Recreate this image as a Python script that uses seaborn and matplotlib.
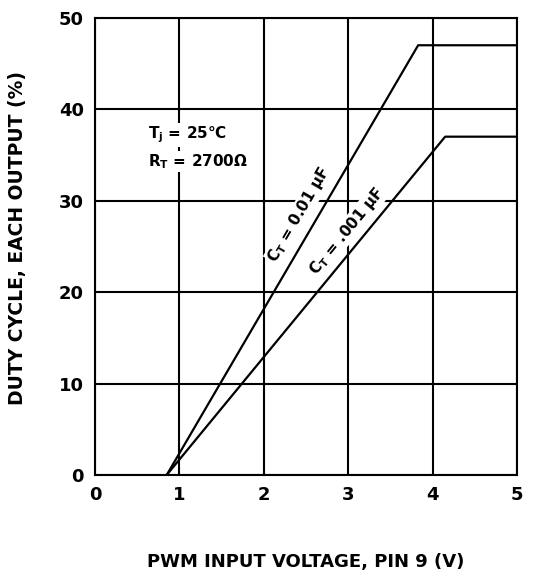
import numpy as np
import pandas as pd
import matplotlib
matplotlib.use('Agg')
import matplotlib.pyplot as plt
import seaborn as sns

sns.set_theme(style='white')
plt.rcParams['font.family'] = ['DejaVu Sans']
plt.rcParams['mathtext.fontset'] = 'dejavusans'
plt.rcParams['mathtext.default'] = 'bf'
plt.rcParams['text.color'] = 'black'
plt.rcParams['axes.labelcolor'] = 'black'
plt.rcParams['xtick.color'] = 'black'
plt.rcParams['ytick.color'] = 'black'

v_01 = [0.85, 3.83, 5.0]
duty_01 = [0.0, 47.0, 47.0]
v_001 = [0.85, 4.15, 5.0]
duty_001 = [0.0, 37.0, 37.0]

xticks = [0, 1, 2, 3, 4, 5]
yticks = [0, 10, 20, 30, 40, 50]

df = pd.concat([
    pd.DataFrame({'v': v_01, 'duty': duty_01, 'ct': '0.01'}),
    pd.DataFrame({'v': v_001, 'duty': duty_001, 'ct': '.001'}),
])

fig = plt.figure(figsize=(5.54, 5.75), dpi=100)
ax = fig.add_axes([0.1715, 0.174, 0.7615, 0.795])

for x in xticks:
    ax.axvline(x, color='black', lw=1.5, zorder=1)
for y in yticks:
    ax.axhline(y, color='black', lw=1.5, zorder=1)

sns.lineplot(data=df, x='v', y='duty', units='ct', estimator=None,
             color='black', lw=1.6, ax=ax, legend=False, zorder=3)

ax.set_xlim(0, 5)
ax.set_ylim(0, 50)
ax.set_xticks(xticks)
ax.set_yticks(yticks)
ax.tick_params(length=0, labelsize=13, pad=8)
for lab in ax.get_xticklabels() + ax.get_yticklabels():
    lab.set_fontweight('bold')
for s in ax.spines.values():
    s.set_color('black')
    s.set_linewidth(1.5)

ax.set_xlabel('PWM INPUT VOLTAGE, PIN 9 (V)', fontsize=13, fontweight='bold', va='center')
ax.xaxis.set_label_coords(0.5, -0.19)
ax.set_ylabel('DUTY CYCLE, EACH OUTPUT (%)', fontsize=13.5, fontweight='bold', va='center')
ax.yaxis.set_label_coords(-0.183, 0.518)

ax.text(0.63, 37.2, r'T$_j$ = 25°C', fontsize=11, fontweight='bold',
        va='center', ha='left', zorder=4,
        bbox=dict(facecolor='white', edgecolor='none', pad=1))
ax.text(0.63, 34.3, r'R$_T$ = 2700Ω', fontsize=11, fontweight='bold',
        va='center', ha='left', zorder=4,
        bbox=dict(facecolor='white', edgecolor='none', pad=1))

ax.text(2.42, 28.5, r'C$_T$ = 0.01 μF', fontsize=11, fontweight='bold',
        rotation=59.7, rotation_mode='anchor', ha='center', va='center', zorder=4,
        bbox=dict(facecolor='white', edgecolor='none', pad=0.5))
ax.text(2.98, 26.6, r'C$_T$ = .001 μF', fontsize=11, fontweight='bold',
        rotation=50.5, rotation_mode='anchor', ha='center', va='center', zorder=4,
        bbox=dict(facecolor='white', edgecolor='none', pad=0.5))

fig.savefig('out.png', dpi=100)
